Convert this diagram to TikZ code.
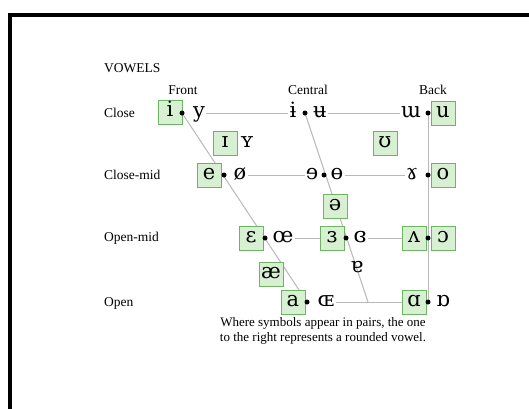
\documentclass[tikz,border=0pt]{standalone}
\usepackage{fontspec}
\setmainfont{Liberation Serif}
\newfontfamily\ipafont{DejaVu Serif}
\usetikzlibrary{backgrounds}
\definecolor{boxfill}{RGB}{216,240,210}
\definecolor{boxdraw}{RGB}{110,180,100}
\definecolor{linegray}{RGB}{185,185,185}
\begin{document}
\begin{tikzpicture}[x=1pt,y=-1pt,
  sym/.style={font=\ipafont\fontsize{21}{21}\selectfont, inner sep=1pt, text height=12pt, text depth=4pt},
  vb/.style={sym, draw=boxdraw, fill=boxfill, line width=0.8pt, minimum width=24pt, minimum height=24pt, inner sep=0pt},
  vdot/.style={circle, fill=black, inner sep=0pt, minimum size=5pt},
  lbl/.style={font=\fontsize{13.5}{15}\selectfont, inner sep=0pt},
  conn/.style={draw=linegray, line width=1pt}]
\useasboundingbox (0,0) rectangle (529,408);
\draw[line width=4pt] (10,440) -- (10,15) -- (560,15);

\node[lbl, anchor=west] (title) at (104,68) {VOWELS};
\node[lbl] (front) at (183,90) {Front};
\node[lbl] (central) at (308,90) {Central};
\node[lbl] (back) at (433,90) {Back};
\node[lbl, anchor=west] (close) at (104,113) {Close};
\node[lbl, anchor=west] (closemid) at (104,175) {Close-mid};
\node[lbl, anchor=west] (openmid) at (104,238) {Open-mid};
\node[lbl, anchor=west] (open) at (104,303) {Open};

% Close row
\node[vb] (i) at (170,112) {i};
\node[sym] (y) at (199,113) {y};
\node[sym] (ibar) at (293,113) {ɨ};
\node[sym] (ubar) at (320,113) {ʉ};
\node[sym] (wturn) at (411,113) {ɯ};
\node[vb] (u) at (443,113) {u};
% near-close
\node[vb] (smallI) at (225,143) {ɪ};
\node[sym] (smallY) at (247,143) {ʏ};
\node[vb] (upsilon) at (385,143) {ʊ};
% Close-mid
\node[vb] (e) at (209,175) {e};
\node[sym] (oslash) at (240,175) {ø};
\node[sym] (erev) at (312,175) {ɘ};
\node[sym] (obar) at (337,175) {ɵ};
\node[sym] (ramshorn) at (412,175) {ɤ};
\node[vb] (o) at (443,175) {o};
% mid
\node[vb] (schwa) at (335,206) {ə};
% Open-mid
\node[vb] (eps) at (251,238) {ɛ};
\node[sym] (oe) at (283,238) {œ};
\node[vb] (reveps) at (332,238) {ɜ};
\node[sym] (closedreveps) at (360,238) {ɞ};
\node[vb] (wedge) at (414,238) {ʌ};
\node[vb] (openo) at (443,238) {ɔ};
% near-open
\node[vb] (ae) at (271,274) {æ};
\node[sym] (turna) at (357,268) {ɐ};
% Open
\node[vb] (a) at (293,302) {a};
\node[sym] (OE) at (326,302) {ɶ};
\node[vb] (alpha) at (414,302) {ɑ};
\node[sym] (turnalpha) at (443,302) {ɒ};

% dots
\node[vdot] (d1) at (182,113) {};
\node[vdot] (d2) at (305,113) {};
\node[vdot] (d3) at (428,113) {};
\node[vdot] (d4) at (224,175) {};
\node[vdot] (d5) at (324,175) {};
\node[vdot] (d6) at (428,175) {};
\node[vdot] (d7) at (265,238) {};
\node[vdot] (d8) at (346,238) {};
\node[vdot] (d9) at (428,238) {};
\node[vdot] (d10) at (307,302) {};
\node[vdot] (d11) at (428,302) {};
\coordinate (cend) at (368,302);

\node[lbl, align=center, font=\fontsize{13}{15}\selectfont] (note) at (323,331)
  {Where symbols appear in pairs, the one\\to the right represents a rounded vowel.};

\begin{scope}[on background layer]
  \fill[white] (0,0) rectangle (529,408);
  \draw[conn] (d1.center) -- (d10.center);
  \draw[conn] (d2.center) -- (cend);
  \draw[conn] (d3.center) -- (d11.center);
  \draw[conn] (y) -- (ibar);
  \draw[conn] (ubar) -- (wturn);
  \draw[conn] (oslash) -- (erev);
  \draw[conn] (obar) -- (ramshorn);
  \draw[conn] (oe) -- (reveps);
  \draw[conn] (closedreveps) -- (wedge);
  \draw[conn] (OE) -- (alpha);
\end{scope}
\end{tikzpicture}
\end{document}
